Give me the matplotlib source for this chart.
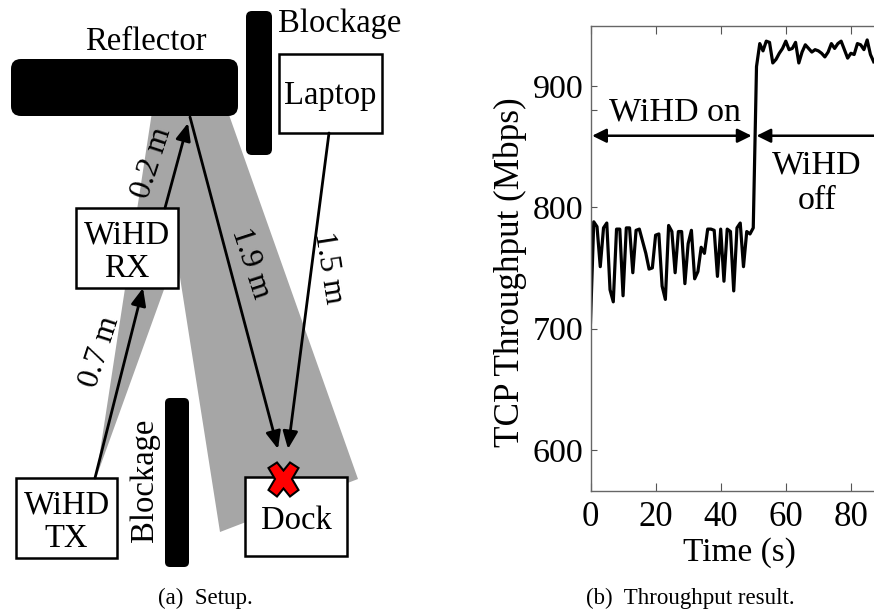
import matplotlib
matplotlib.use('Agg')
import matplotlib.pyplot as plt
from matplotlib.patches import Polygon, Rectangle, FancyBboxPatch

plt.rcParams['font.family'] = ['Liberation Serif']

W, H = 874, 614

# throughput trace, one sample per second
time_s = list(range(0, 88))
tput_on = [705, 788, 784, 751, 783, 787, 732, 722, 782, 782, 727, 783, 783, 746, 781, 782,
           772, 762, 749, 750, 777, 778, 735, 724, 785, 780, 746, 780, 780, 737, 770, 781,
           741, 747, 767, 762, 782, 782, 781, 743, 782, 739, 782, 780, 731, 783, 787, 751,
           780, 778, 783]
tput_off = [916, 935, 929, 937, 936, 919, 922, 927, 931, 937, 930, 931, 936, 919, 928, 934,
            931, 928, 930, 929, 927, 924, 928, 935, 931, 935, 937, 930, 923, 927, 926, 935,
            934, 930, 938, 926, 920]
tput = tput_on + tput_off
x_ticks = [0, 20, 40, 60, 80]
y_ticks = [600, 700, 800, 900]
y_extra_tick = [880]

# setup diagram, in image pixels
beam_1 = [(152, 112), (228, 112), (96, 478)]
beam_2 = [(154, 112), (228, 112), (358, 479), (220, 532)]
boxes = [(76, 208, 102, 80, 'WiHD\nRX', 4), (16, 478, 101, 80, 'WiHD\nTX', 4),
         (279, 54, 103, 79, 'Laptop', 2), (245, 477, 102, 79, 'Dock', 4)]
blocks = [(11, 59, 227, 57, 10), (246, 11, 26, 144, 6), (165, 398, 24, 169, 5)]
arrows = [(95, 478, 143, 288), (165, 208, 188, 123), (190, 117, 278, 449), (329, 133, 288, 449)]
labels = [(100, 352, '0.7 m', 72), (152, 163, '0.2 m', 72), (250, 263, '1.9 m', -72), (328, 268, '1.5 m', -81)]
cross = [(268.5, 468), (277, 462.5), (283.5, 470.5), (290, 462.5), (298.5, 468), (292, 479),
         (298.5, 490), (290, 496.5), (283.5, 488.5), (277, 496.5), (268.5, 490), (275, 479)]

fig = plt.figure(figsize=(W / 100, H / 100), dpi=100)
bg = fig.add_axes([0, 0, 1, 1])
bg.set_xlim(0, W)
bg.set_ylim(H, 0)
bg.axis('off')

bg.add_patch(Polygon(beam_1, color='#a6a6a6', lw=0))
bg.add_patch(Polygon(beam_2, color='#a6a6a6', lw=0))
for x, y, w, h, r in blocks:
    bg.add_patch(FancyBboxPatch((x + r, y + r), w - 2 * r, h - 2 * r, boxstyle='round,pad=%d' % r,
                                fc='black', ec='black', lw=0))
for x, y, w, h, s, dy in boxes:
    bg.add_patch(Rectangle((x, y), w, h, fc='white', ec='black', lw=1.8))
    bg.text(x + w / 2, y + h / 2 + dy, s, ha='center', va='center', fontsize=23.5, linespacing=1.14)
for x0, y0, x1, y1 in arrows:
    bg.annotate('', xy=(x1, y1), xytext=(x0, y0),
                arrowprops=dict(arrowstyle='-|>,head_length=1.05,head_width=0.45', color='black', lw=2,
                                shrinkA=0, shrinkB=0))
for x, y, s, rot in labels:
    bg.text(x, y, s, ha='center', va='center', rotation=rot, fontsize=23, rotation_mode='anchor')
bg.text(146, 42, 'Reflector', ha='center', va='center', fontsize=23.5)
bg.text(340, 24, 'Blockage', ha='center', va='center', fontsize=23.5)
bg.text(145, 480, 'Blockage', ha='center', va='center', rotation=90, fontsize=23.5)
bg.add_patch(Polygon(cross, fc='red', ec='black', lw=1.5, joinstyle='miter', zorder=5))
bg.text(205, 598, '(a)  Setup.', ha='center', va='center', fontsize=16.5)
bg.text(690, 598, '(b)  Throughput result.', ha='center', va='center', fontsize=16.5)

# throughput panel runs off the right edge of the image
x_max = (W - 590.5) / 3.255
ax = fig.add_axes([590.5 / W, 1 - 491 / H, (W - 590.5) / W, (491 - 26) / H])
ax.patch.set_visible(False)
ax.plot(time_s, tput, color='black', lw=2.3)
ax.set_xlim(0, x_max)
ax.set_ylim(566, 949.5)
ax.set_xticks(x_ticks)
ax.set_yticks(y_ticks)
ax.set_yticks(y_extra_tick, minor=True)
ax.tick_params(axis='x', direction='in', labelsize=25, length=6, width=0.8, color='#555555', pad=7, top=True)
ax.tick_params(axis='y', which='both', direction='in', labelsize=24.5, length=4, width=0.8, color='#555555', pad=5)
for sp in ax.spines.values():
    sp.set_color('#666666')
    sp.set_linewidth(1)
ax.spines['right'].set_visible(False)
ax.set_xlabel('Time (s)', fontsize=24)
ax.set_ylabel('TCP Throughput (Mbps)', fontsize=25.3)
ax.xaxis.set_label_coords(0.524, -0.1)
ax.yaxis.set_label_coords(-0.284, 0.471, transform=ax.transAxes)
ax.yaxis.label.set_va('center')

ax.annotate('', xy=(0.5, 859), xytext=(49.5, 859),
            arrowprops=dict(arrowstyle='<|-|>,head_length=0.85,head_width=0.42', color='black', lw=1.8, shrinkA=0, shrinkB=0))
ax.annotate('', xy=(51, 859), xytext=(x_max + 2, 859), annotation_clip=False,
            arrowprops=dict(arrowstyle='-|>,head_length=0.85,head_width=0.42', color='black', lw=1.8, shrinkA=0, shrinkB=0))
ax.text(26, 878, 'WiHD on', ha='center', va='center', fontsize=24.5)
ax.text(69.6, 820, 'WiHD\noff', ha='center', va='center', fontsize=24.5, linespacing=1.25)

fig.savefig('out.png', dpi=100)
